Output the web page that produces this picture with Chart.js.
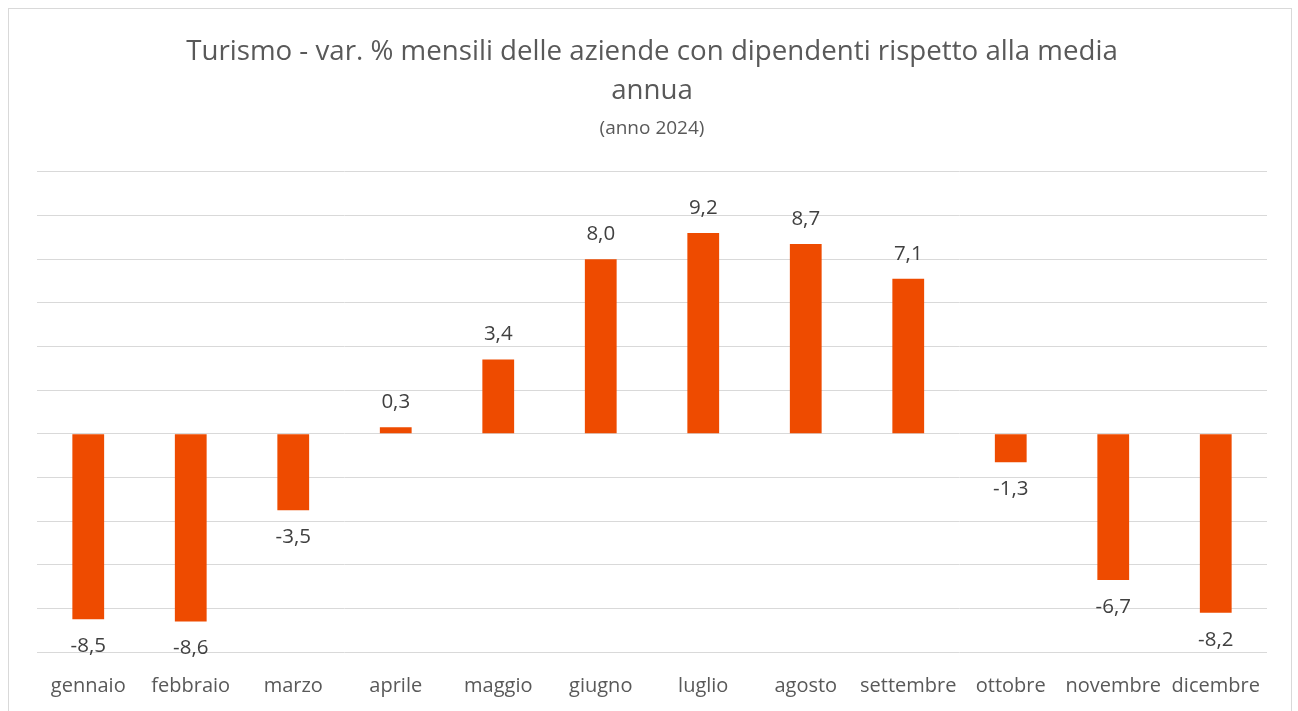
<!DOCTYPE html>
<html>
<head>
<meta charset="utf-8">
<script src="https://cdn.jsdelivr.net/npm/chart.js@4.4.1/dist/chart.umd.min.js"></script>
<style>
    html, body { margin: 0; padding: 0; background: #fff; }
    #frame {
        position: absolute; left: 8px; top: 8px;
        width: 1282px; height: 720px;
        border: 1px solid #d9d9d9;
    }
    #wrap { position: absolute; left: 0; top: 0; width: 1298px; height: 711px; }
</style>
</head>
<body>
<div id="frame"></div>
<div id="wrap"><canvas id="chart"></canvas></div>
<script>
// data
const months = ["gennaio", "febbraio", "marzo", "aprile", "maggio", "giugno",
                "luglio", "agosto", "settembre", "ottobre", "novembre", "dicembre"];
const variations = [-8.5, -8.6, -3.5, 0.3, 3.4, 8.0, 9.2, 8.7, 7.1, -1.3, -6.7, -8.2];
const yMin = -10;
const yMax = 12;
const yStep = 2;

const FONT = "'Open Sans', sans-serif";

// value labels above / below each bar
const barLabels = {
    id: "barLabels",
    afterDatasetsDraw(chart) {
        const ctx = chart.ctx;
        const meta = chart.getDatasetMeta(0);
        ctx.save();
        ctx.font = "20.5px " + FONT;
        ctx.fillStyle = "#404040";
        ctx.textAlign = "center";
        ctx.textBaseline = "middle";
        meta.data.forEach((bar, i) => {
            const v = variations[i];
            const txt = v.toFixed(1).replace(".", ",");
            const y = v >= 0 ? bar.y - 25 : bar.y + 27;
            ctx.fillText(txt, bar.x, y);
        });
        ctx.restore();
    }
};

new Chart(document.getElementById("chart"), {
    type: "bar",
    data: {
        labels: months,
        datasets: [{
            data: variations,
            backgroundColor: "#EE4B00",
            barPercentage: 0.62,
            categoryPercentage: 0.5
        }]
    },
    options: {
        responsive: true,
        maintainAspectRatio: false,
        animation: false,
        layout: {
            padding: { left: 37, right: 31, top: 14, bottom: 0 }
        },
        plugins: {
            legend: { display: false },
            tooltip: { enabled: false },
            title: {
                display: true,
                text: ["Turismo - var. % mensili delle aziende con dipendenti rispetto alla media", "annua"],
                color: "#595959",
                font: { family: FONT, size: 27.7, weight: "normal", lineHeight: 1.41 },
                padding: { top: 19, bottom: 0 }
            },
            subtitle: {
                display: true,
                text: "(anno 2024)",
                color: "#595959",
                font: { family: FONT, size: 19, weight: "normal" },
                padding: { top: 6, bottom: 32 }
            }
        },
        scales: {
            x: {
                grid: { display: false },
                border: { display: false },
                ticks: {
                    color: "#595959",
                    font: { family: FONT, size: 20 },
                    padding: 14,
                    maxRotation: 0,
                    autoSkip: false
                },
                afterFit(scale) { scale.height = 59; }
            },
            y: {
                min: yMin,
                max: yMax,
                grid: { color: "#d9d9d9", lineWidth: 1, drawTicks: false },
                border: { display: false },
                ticks: { display: false, stepSize: yStep },
                afterFit(scale) { scale.width = 0; }
            }
        }
    },
    plugins: [barLabels]
});
</script>
</body>
</html>
